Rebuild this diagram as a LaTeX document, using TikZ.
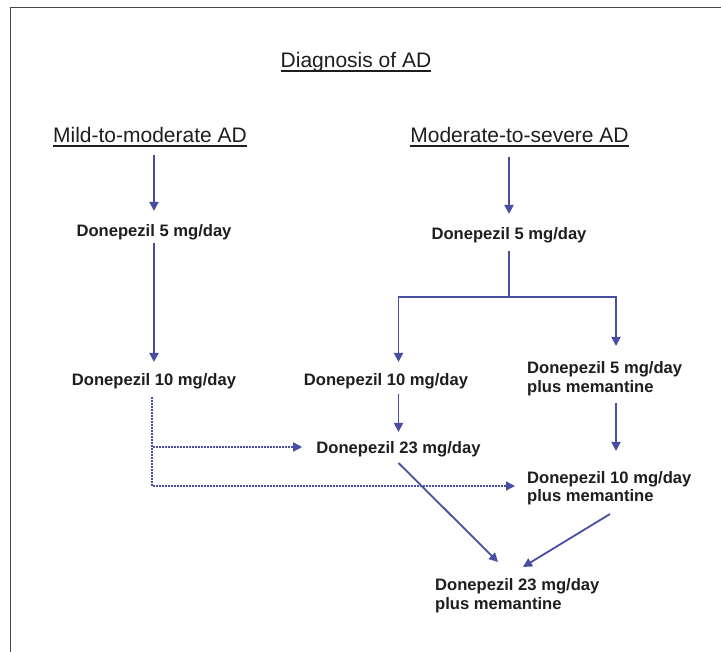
\documentclass[tikz,border=0pt]{standalone}
\usepackage{fontspec}
\setmainfont{Liberation Sans}
\usetikzlibrary{arrows.meta,calc}
\definecolor{arrowc}{RGB}{72,78,162}
\definecolor{txtc}{RGB}{30,30,30}
\definecolor{framec}{RGB}{70,70,70}
\begin{document}
\begin{tikzpicture}[x=1pt,y=-1pt,
  head/.style={font=\fontsize{21}{24}\selectfont, text=txtc, inner sep=0pt, anchor=base},
  drug/.style={font=\bfseries\fontsize{16.6}{19}\selectfont, text=txtc, inner sep=0pt, anchor=base},
  drugl/.style={drug, anchor=base west, align=left},
  arr/.style={draw=arrowc, line width=1.8pt, -{Triangle[length=9pt,width=9pt]}},
  link/.style={draw=arrowc, line width=1.8pt},
  dotarr/.style={arr, line width=1.5pt, dash pattern=on 1.6pt off 1.4pt},
  uline/.style={draw=txtc, line width=1.2pt}]
\useasboundingbox[fill=white] (0,0) rectangle (721,652);
\draw[framec, line width=1.5pt] (10.5,652) -- (10.5,7.5) -- (721,7.5);

% headings
\node[head] (diag) at (356,68) {Diagnosis of AD};
\node[head] (mild) at (150,143) {Mild-to-moderate AD};
\node[head] (mod) at (519.5,143) {Moderate-to-severe AD};
\foreach \n in {diag,mild,mod}
  \draw[uline] ($(\n.base west)+(0,3)$) -- ($(\n.base east)+(0,3)$);

% drug nodes (two-line nodes are anchored at the baseline of their last line)
\node[drug] (ld5) at (154,237) {Donepezil 5 mg/day};
\node[drug] (ld10) at (154,386) {Donepezil 10 mg/day};
\node[drug] (rd5) at (509,240) {Donepezil 5 mg/day};
\node[drug] (md10) at (386,386) {Donepezil 10 mg/day};
\node[drug] (d23) at (398.5,454) {Donepezil 23 mg/day};
\node[drugl] (d5m) at (527,393) {Donepezil 5 mg/day\\plus memantine};
\node[drugl] (d10m) at (527,502) {Donepezil 10 mg/day\\plus memantine};
\node[drugl] (d23m) at (435,609) {Donepezil 23 mg/day\\plus memantine};

% left column
\draw[arr] ($(mild.base -| ld5.base)+(0,12)$) -- ($(ld5.base)+(0,-26)$);
\draw[arr] ($(ld5.base)+(0,6)$) -- ($(ld10.base -| ld5.base)+(0,-24)$);

% right column
\draw[arr] ($(mod.base -| rd5.base)+(0,14)$) -- ($(rd5.base)+(0,-26)$);
\coordinate (br) at ($(rd5.base)+(0,57)$);
\draw[link] ($(rd5.base)+(0,11)$) -- (br);
\draw[arr] (br) -| ($(md10.base -| d23.base)+(0,-24)$);
\draw[arr] (br) -| ($(d5m.base west)+(89,-47)$);
\draw[arr] ($(md10.base -| d23.base)+(0,8)$) -- ($(d23.base)+(0,-22)$);
\draw[arr] ($(d5m.base west)+(89,10)$) -- ($(d10m.base west)+(89,-51)$);

% dotted switches
\coordinate (dstart) at ($(ld10.base)+(-2,11)$);
\draw[dotarr] (dstart) |- ($(d23.base west)+(-14,-7)$);
\draw[dotarr] (dstart) |- ($(d10m.base west)+(-12,-16)$);

% converging diagonals
\draw[arr] ($(d23.base)+(0,9)$) -- ($(d23m.base west)+(63,-47)$);
\draw[arr] ($(d10m.base west)+(83,12)$) -- ($(d23m.base west)+(88,-42)$);
\end{tikzpicture}
\end{document}
